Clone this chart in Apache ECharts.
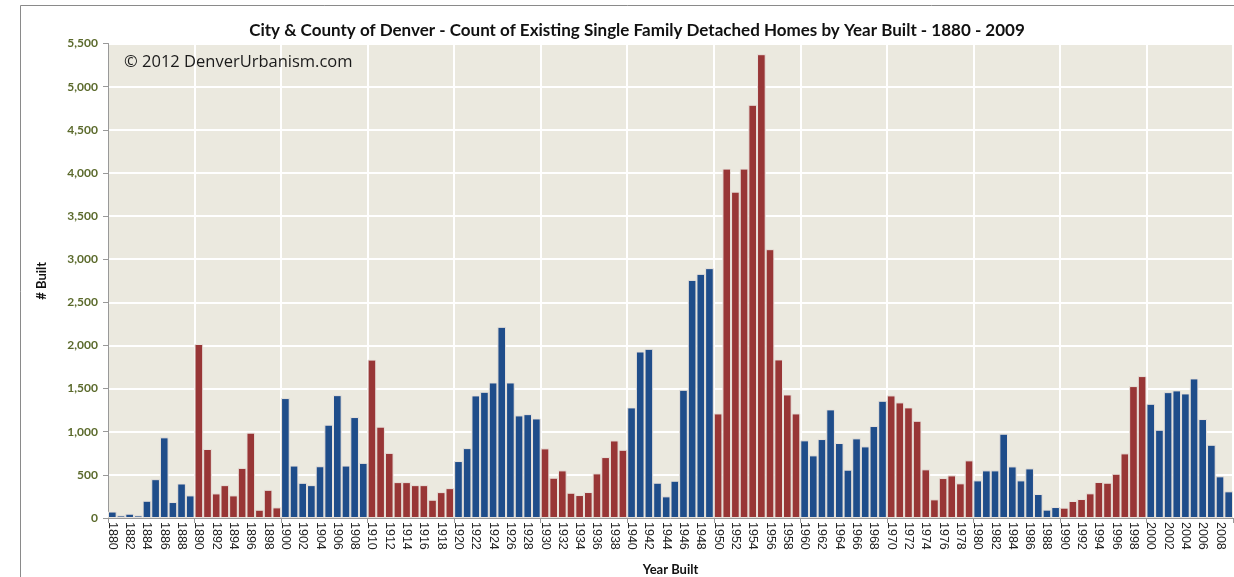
<!DOCTYPE html>
<html>
<head>
<meta charset="utf-8">
<script src="https://cdn.jsdelivr.net/npm/echarts@6/dist/echarts.min.js"></script>
<style>
html,body{margin:0;padding:0;background:#fff;}
#chart{width:1234px;height:577px;}
</style>
</head>
<body>
<div id="chart"></div>
<script>
const years = [];
for (let y = 1880; y <= 2009; y++) years.push(String(y));

const built = [
  // 1880s
  75, 30, 50, 30, 200, 450, 935, 185, 400, 262,
  // 1890s
  2017, 800, 285, 381, 262, 581, 989, 96, 327, 123,
  // 1900s
  1390, 608, 408, 381, 600, 1082, 1424, 608, 1170, 639,
  // 1910s
  1836, 1059, 755, 416, 416, 381, 381, 212, 300, 346,
  // 1920s
  660, 810, 1421, 1463, 1571, 2216, 1571, 1189, 1204, 1154,
  // 1930s
  807, 467, 552, 293, 266, 301, 517, 706, 899, 791,
  // 1940s
  1282, 1930, 1961, 409, 251, 432, 1486, 2760, 2830, 2896,
  // 1950s
  1212, 4050, 3783, 4050, 4790, 5376, 3116, 1838, 1432, 1212,
  // 1960s
  900, 726, 915, 1259, 869, 560, 923, 830, 1066, 1359,
  // 1970s
  1421, 1340, 1282, 1127, 564, 216, 463, 494, 402, 668,
  // 1980s
  436, 552, 552, 977, 598, 436, 575, 278, 97, 127,
  // 1990s
  120, 197, 220, 286, 417, 409, 513, 749, 1529, 1645,
  // 2000s
  1324, 1023, 1459, 1479, 1444, 1618, 1147, 849, 483, 309
];

const yTicks = [0, 500, 1000, 1500, 2000, 2500, 3000, 3500, 4000, 4500, 5000, 5500];

const titleText = 'City & County of Denver - Count of Existing Single Family Detached Homes by Year Built - 1880 - 2009';
const watermark = '\u00A9 2012 DenverUrbanism.com';

const BLUE = '#1f4d8a';
const RED = '#983636';

const chart = echarts.init(document.getElementById('chart'), null, {renderer: 'canvas'});
chart.setOption({
  animation: false,
  backgroundColor: '#ffffff',
  title: {
    text: titleText,
    left: 632,
    textAlign: 'center',
    top: 17,
    textStyle: {fontFamily: 'Lato', fontWeight: 'bold', fontSize: 17, color: '#111'}
  },
  graphic: [
    {type: 'line', shape: {x1: 20.5, y1: 5.5, x2: 1240, y2: 5.5}, style: {stroke: '#8a8a8a', lineWidth: 1}, silent: true},
    {type: 'line', shape: {x1: 20.5, y1: 5.5, x2: 20.5, y2: 577}, style: {stroke: '#8a8a8a', lineWidth: 1}, silent: true},
    {type: 'text', left: 124, top: 54, z: 10,
     style: {text: watermark, font: '16.5px "Open Sans"', fill: '#1a1a1a'}}
  ],
  grid: {left: 108, right: 1, top: 43.5, bottom: 59, outerBoundsMode: 'none', containLabel: false,
         backgroundColor: '#ebe9df', show: true, borderWidth: 0},
  xAxis: {
    type: 'category',
    data: years,
    name: 'Year Built',
    nameLocation: 'middle',
    nameGap: 45,
    nameTextStyle: {fontFamily: 'Lato', fontWeight: 'bold', fontSize: 13, color: '#111'},
    axisLine: {show: true, lineStyle: {color: '#999', width: 1}},
    axisTick: {show: true, interval: 9, length: 5, lineStyle: {color: '#999'}},
    splitLine: {show: true, interval: 9, lineStyle: {color: '#ffffff', width: 2}},
    axisLabel: {interval: 1, rotate: -90, fontFamily: 'Liberation Sans', fontSize: 12.5, color: '#222', margin: 4}
  },
  yAxis: {
    type: 'value',
    min: yTicks[0],
    max: yTicks[yTicks.length - 1],
    interval: 500,
    name: '# Built',
    nameLocation: 'middle',
    nameGap: 60,
    nameRotate: 90,
    nameTextStyle: {fontFamily: 'Lato', fontWeight: 'bold', fontSize: 13, color: '#111'},
    axisLine: {show: true, lineStyle: {color: '#999', width: 1}},
    axisTick: {show: true, length: 5, lineStyle: {color: '#999'}},
    splitLine: {show: true, lineStyle: {color: '#ffffff', width: 2}},
    axisLabel: {
      fontFamily: 'Lato', fontWeight: 'bold', fontSize: 12, color: '#5b6a2c', margin: 10,
      formatter: v => v.toLocaleString('en-US')
    }
  },
  series: [{
    type: 'bar',
    data: built,
    barCategoryGap: '0%',
    itemStyle: {
      borderColor: '#e9e3dc',
      borderWidth: 1,
      color: p => (Math.floor(p.dataIndex / 10) % 2 === 0 ? BLUE : RED)
    }
  }]
});
</script>
</body>
</html>
